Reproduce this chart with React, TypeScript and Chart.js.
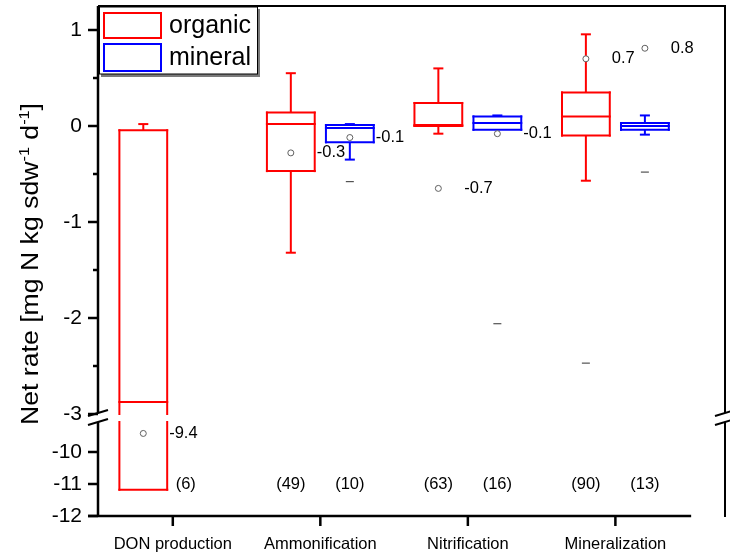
import React, { useEffect, useRef } from 'react';
import { Chart, registerables } from 'chart.js';

Chart.register(...registerables);

const categories = ['DON production', 'Ammonification', 'Nitrification', 'Mineralization'];

const organicWhiskerHigh = [0.02, 0.55, 0.6, 0.955];
const organicQ3 = [-0.045, 0.14, 0.24, 0.35];
const organicMedian = [-2.875, 0.02, 0.01, 0.1];
const organicQ1 = [-11.18, -0.47, 0.0, -0.1];
const organicWhiskerLow = [-11.18, -1.32, -0.08, -0.57];
const organicMean = [-9.42, -0.28, -0.65, 0.7];
const organicExtreme: (number | null)[] = [null, null, null, -2.47];
const organicN = [6, 49, 63, 90];

const mineralWhiskerHigh: (number | null)[] = [null, 0.02, 0.11, 0.11];
const mineralQ3: (number | null)[] = [null, 0.01, 0.1, 0.03];
const mineralMedian: (number | null)[] = [null, -0.02, 0.03, 0.0];
const mineralQ1: (number | null)[] = [null, -0.17, -0.04, -0.04];
const mineralWhiskerLow: (number | null)[] = [null, -0.35, -0.04, -0.09];
const mineralMean: (number | null)[] = [null, -0.12, -0.08, 0.81];
const mineralExtreme: (number | null)[] = [null, -0.58, -2.06, -0.48];
const mineralN: (number | null)[] = [null, 10, 16, 13];

const upperTicks = [1, 0, -1, -2, -3];
const upperMinorTicks = [0.5, -0.5, -1.5, -2.5];
const lowerTicks = [-10, -11, -12];

const UPPER_MIN = -3.0625;
const UPPER_MAX = 1.25;
const LOWER_MIN = -12;
const LOWER_MAX = -9;
const BREAK_HI = -3;
const BREAK_LO = -9.0625;
// relative pixel density of the two axis segments (upper is 3x stretched)
const UPPER_DENSITY = 3;
const LOWER_DENSITY = 1;

const OFFSET = 0.2;
const HALF = 0.162;
const CAP = 0.034;
const FONT = "'Liberation Sans', Arial, sans-serif";
const RED = '#ff0000';
const BLUE = '#0000ff';

function px(chart: any, v: number) {
  if (v >= UPPER_MIN) return chart.scales.y.getPixelForValue(v);
  return chart.scales.yb.getPixelForValue(v);
}

function vline(ctx: CanvasRenderingContext2D, chart: any, x: number, a: number, b: number) {
  const hi = Math.max(a, b);
  const lo = Math.min(a, b);
  ctx.beginPath();
  if (hi > BREAK_HI && lo < BREAK_LO) {
    ctx.moveTo(x, px(chart, hi));
    ctx.lineTo(x, chart.scales.y.getPixelForValue(BREAK_HI));
    ctx.moveTo(x, chart.scales.yb.getPixelForValue(BREAK_LO));
    ctx.lineTo(x, px(chart, lo));
  } else {
    ctx.moveTo(x, px(chart, hi));
    ctx.lineTo(x, px(chart, lo));
  }
  ctx.stroke();
}

function hline(ctx: CanvasRenderingContext2D, x1: number, x2: number, y: number) {
  ctx.beginPath();
  ctx.moveTo(x1, y);
  ctx.lineTo(x2, y);
  ctx.stroke();
}

function drawBox(ctx: CanvasRenderingContext2D, chart: any, cx: number, q1: number, q3: number, med: number, wl: number, wh: number, color: string) {
  const xs = chart.scales.x;
  const xl = xs.getPixelForValue(cx - HALF);
  const xr = xs.getPixelForValue(cx + HALF);
  const xc = xs.getPixelForValue(cx);
  const cl = xs.getPixelForValue(cx - CAP);
  const cr = xs.getPixelForValue(cx + CAP);
  ctx.strokeStyle = color;
  ctx.lineWidth = 2;
  ctx.lineCap = 'square';
  vline(ctx, chart, xl, q3, q1);
  vline(ctx, chart, xr, q3, q1);
  hline(ctx, xl, xr, px(chart, q3));
  hline(ctx, xl, xr, px(chart, q1));
  hline(ctx, xl, xr, px(chart, med));
  ctx.lineCap = 'butt';
  if (wh > q3) {
    vline(ctx, chart, xc, wh, q3);
    hline(ctx, cl, cr, px(chart, wh));
  }
  if (wl < q1) {
    vline(ctx, chart, xc, q1, wl);
    hline(ctx, cl, cr, px(chart, wl));
  }
}

const boxPlugin = {
  id: 'boxes',
  beforeDatasetsDraw(chart: any) {
    const ctx = chart.ctx;
    ctx.save();
    categories.forEach((_, i) => {
      drawBox(ctx, chart, i - OFFSET, organicQ1[i], organicQ3[i], organicMedian[i], organicWhiskerLow[i], organicWhiskerHigh[i], RED);
      if (mineralQ1[i] != null) {
        drawBox(ctx, chart, i + OFFSET, mineralQ1[i] as number, mineralQ3[i] as number, mineralMedian[i] as number, mineralWhiskerLow[i] as number, mineralWhiskerHigh[i] as number, BLUE);
      }
    });
    ctx.restore();
  },
  afterDatasetsDraw(chart: any) {
    const ctx = chart.ctx;
    const xs = chart.scales.x;
    const yb = chart.scales.yb;
    ctx.save();
    ctx.fillStyle = '#000';
    ctx.font = `16.5px ${FONT}`;
    ctx.textBaseline = 'middle';
    ctx.textAlign = 'left';
    categories.forEach((_, i) => {
      ctx.fillText(organicMean[i].toFixed(1), xs.getPixelForValue(i - OFFSET + HALF) + 2, px(chart, organicMean[i]));
      const mm = mineralMean[i];
      if (mm != null) {
        ctx.fillText(mm.toFixed(1), xs.getPixelForValue(i + OFFSET + HALF) + 2, px(chart, mm));
      }
    });
    ctx.textAlign = 'center';
    const nY = yb.getPixelForValue(-11);
    categories.forEach((_, i) => {
      const ox = i === 0 ? i + 0.088 : i - OFFSET;
      ctx.fillText(`(${organicN[i]})`, xs.getPixelForValue(ox), nY);
      const mn = mineralN[i];
      if (mn != null) ctx.fillText(`(${mn})`, xs.getPixelForValue(i + OFFSET), nY);
    });
    ctx.restore();
  },
  afterDraw(chart: any) {
    const ctx = chart.ctx;
    const xs = chart.scales.x;
    const yt = chart.scales.y;
    const yb = chart.scales.yb;
    const a = chart.chartArea;
    ctx.save();
    ctx.strokeStyle = '#000';
    ctx.lineCap = 'butt';
    const breakTop = yt.getPixelForValue(BREAK_HI) - 1;
    const breakBot = yb.getPixelForValue(BREAK_LO);
    // left axis
    ctx.lineWidth = 2.5;
    ctx.beginPath();
    ctx.moveTo(a.left, a.top);
    ctx.lineTo(a.left, breakTop);
    ctx.moveTo(a.left, breakBot);
    ctx.lineTo(a.left, a.bottom + 1);
    ctx.stroke();
    // right axis
    ctx.lineWidth = 2;
    ctx.beginPath();
    ctx.moveTo(a.right, a.top);
    ctx.lineTo(a.right, breakTop);
    ctx.moveTo(a.right, breakBot);
    ctx.lineTo(a.right, a.bottom + 1);
    ctx.stroke();
    // top frame
    ctx.beginPath();
    ctx.moveTo(a.left, a.top);
    ctx.lineTo(a.right + 1, a.top);
    ctx.stroke();
    // bottom axis
    ctx.lineWidth = 2.5;
    ctx.beginPath();
    ctx.moveTo(a.left - 10, a.bottom);
    ctx.lineTo(xs.getPixelForValue(3.5) + 2, a.bottom);
    ctx.stroke();
    // x ticks
    categories.forEach((_, i) => {
      const x = xs.getPixelForValue(i);
      ctx.beginPath();
      ctx.moveTo(x, a.bottom);
      ctx.lineTo(x, a.bottom + 10);
      ctx.stroke();
    });
    // y ticks
    upperTicks.forEach((v) => hline(ctx, a.left - 10, a.left, yt.getPixelForValue(v)));
    lowerTicks.forEach((v) => hline(ctx, a.left - 10, a.left, yb.getPixelForValue(v)));
    upperMinorTicks.forEach((v) => hline(ctx, a.left - 5, a.left, yt.getPixelForValue(v)));
    // break marks
    ctx.lineWidth = 2;
    [a.left, a.right].forEach((x) => {
      [breakTop, breakBot].forEach((y) => {
        ctx.beginPath();
        ctx.moveTo(x - 10, y + 3);
        ctx.lineTo(x + 10, y - 3);
        ctx.stroke();
      });
    });

    // y title
    ctx.save();
    ctx.fillStyle = '#000';
    ctx.translate(38, 264);
    ctx.rotate(-Math.PI / 2);
    const main = `23px ${FONT}`;
    const sup = `14px ${FONT}`;
    const parts: [string, string, number][] = [
      ['Net rate [mg N kg sdw', main, 0],
      ['-1', sup, -9],
      [' d', main, 0],
      ['-1', sup, -9],
      [']', main, 0],
    ];
    let total = 0;
    parts.forEach(([t, f]) => { ctx.font = f; total += ctx.measureText(t).width; });
    const k = 322 / total;
    ctx.scale(k, 1);
    let cx = -total / 2;
    ctx.textBaseline = 'alphabetic';
    ctx.textAlign = 'left';
    parts.forEach(([t, f, dy]) => {
      ctx.font = f;
      ctx.fillText(t, cx, dy);
      cx += ctx.measureText(t).width;
    });
    ctx.restore();

    // legend
    ctx.fillStyle = '#7a7a7a';
    ctx.fillRect(101, 9, 159, 68);
    ctx.fillStyle = '#fff';
    ctx.fillRect(99, 7, 158, 67);
    ctx.strokeStyle = '#000';
    ctx.lineWidth = 1;
    ctx.strokeRect(99.5, 7, 158, 67);
    ctx.lineWidth = 2;
    ctx.strokeStyle = RED;
    ctx.strokeRect(104, 13, 57, 25);
    ctx.strokeStyle = BLUE;
    ctx.strokeRect(104, 44, 57, 27);
    ctx.fillStyle = '#000';
    ctx.font = `25px ${FONT}`;
    ctx.textAlign = 'left';
    ctx.textBaseline = 'alphabetic';
    ctx.fillText('organic', 169, 33);
    ctx.fillText('mineral', 169, 65);
    ctx.restore();
  },
};

function meanPoints(arr: (number | null)[], offset: number, upper: boolean) {
  return arr
    .map((v, i) => (v == null ? null : { x: i + offset, y: v }))
    .filter((p) => p != null && (upper ? p.y >= UPPER_MIN : p.y <= LOWER_MAX)) as { x: number; y: number }[];
}

function noPad(s: any) {
  s.paddingTop = 0;
  s.paddingBottom = 0;
  s.paddingLeft = 0;
  s.paddingRight = 0;
}

export default function App() {
  const ref = useRef<HTMLCanvasElement | null>(null);
  useEffect(() => {
    document.body.style.margin = '0';
    const canvas = ref.current;
    if (!canvas) return;
    const meanStyle = {
      pointRadius: 3,
      pointBorderColor: '#606060',
      pointBackgroundColor: '#ffffff',
      pointBorderWidth: 1,
      showLine: false,
    };
    const dashStyle = {
      pointStyle: 'line' as const,
      pointRadius: 4,
      pointBorderColor: '#303030',
      pointBorderWidth: 1,
      showLine: false,
    };
    const yTicks = { color: '#000', font: { family: FONT, size: 21 }, padding: 16, autoSkip: false, callback: (v: any) => String(v) };
    const chart = new Chart(canvas, {
      type: 'scatter',
      data: {
        datasets: [
          { label: 'organic mean', data: meanPoints(organicMean, -OFFSET, true), yAxisID: 'y', ...meanStyle },
          { label: 'organic mean low', data: meanPoints(organicMean, -OFFSET, false), yAxisID: 'yb', ...meanStyle },
          { label: 'mineral mean', data: meanPoints(mineralMean, OFFSET, true), yAxisID: 'y', ...meanStyle },
          { label: 'organic extreme', data: meanPoints(organicExtreme, -OFFSET, true), yAxisID: 'y', ...dashStyle },
          { label: 'mineral extreme', data: meanPoints(mineralExtreme, OFFSET, true), yAxisID: 'y', ...dashStyle },
        ],
      },
      options: {
        animation: false,
        responsive: false,
        devicePixelRatio: 1,
        events: [],
        layout: { padding: { top: 6, right: 2, left: 0, bottom: 0 } },
        plugins: { legend: { display: false }, tooltip: { enabled: false }, title: { display: false } },
        scales: {
          x: {
            type: 'linear',
            min: -0.507,
            max: 3.743,
            grid: { display: false, drawTicks: false },
            border: { display: false },
            ticks: {
              color: '#000',
              font: { family: FONT, size: 16.5 },
              padding: 19,
              autoSkip: false,
              maxRotation: 0,
              callback: (v: any) => categories[v as number] ?? '',
            },
            afterBuildTicks: (s: any) => { s.ticks = categories.map((_, i) => ({ value: i })); },
            afterFit: (s: any) => { s.height = 38; noPad(s); },
          },
          yb: {
            type: 'linear',
            position: 'left',
            stack: 'v',
            stackWeight: (LOWER_MAX - LOWER_MIN) * LOWER_DENSITY,
            min: LOWER_MIN,
            max: LOWER_MAX,
            grid: { display: false, drawTicks: false },
            border: { display: false },
            ticks: yTicks,
            afterBuildTicks: (s: any) => { s.ticks = lowerTicks.map((v) => ({ value: v })); },
            afterFit: (s: any) => { s.width = 98; noPad(s); },
          },
          y: {
            type: 'linear',
            position: 'left',
            stack: 'v',
            stackWeight: (UPPER_MAX - UPPER_MIN) * UPPER_DENSITY,
            min: UPPER_MIN,
            max: UPPER_MAX,
            grid: { display: false, drawTicks: false },
            border: { display: false },
            ticks: yTicks,
            afterBuildTicks: (s: any) => { s.ticks = upperTicks.map((v) => ({ value: v })); },
            afterFit: (s: any) => { s.width = 98; noPad(s); },
          },
        },
      } as any,
      plugins: [boxPlugin],
    });
    return () => chart.destroy();
  }, []);
  return (
    <div style={{ width: 730, height: 554, background: '#fff' }}>
      <canvas ref={ref} width={730} height={554} style={{ display: 'block' }} />
    </div>
  );
}
